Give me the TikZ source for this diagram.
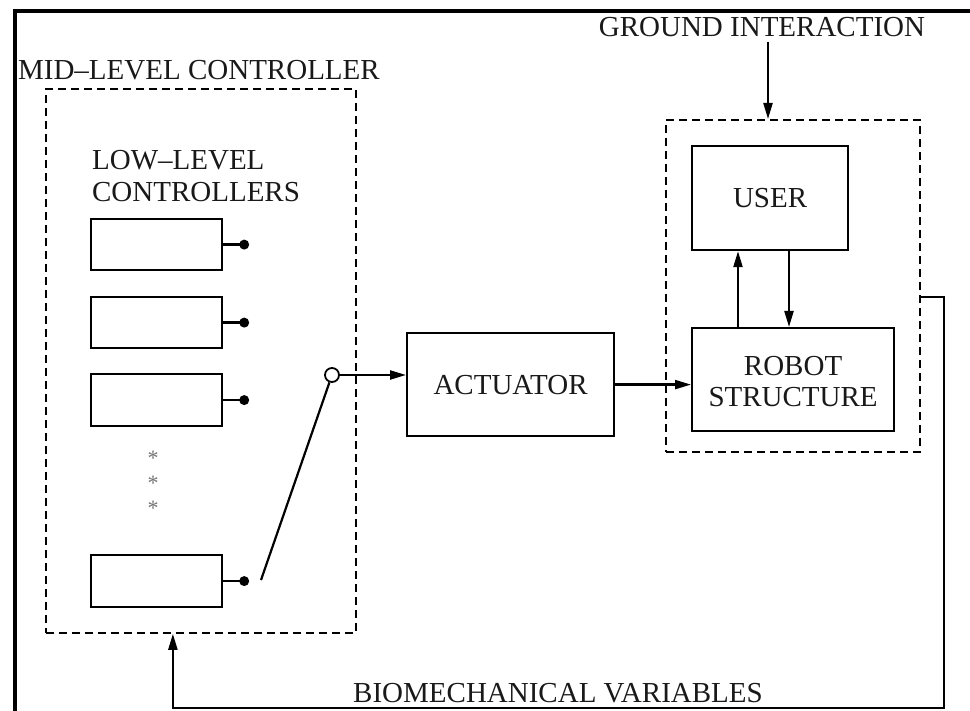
\documentclass[tikz,border=0pt]{standalone}
\usepackage{fontspec}
\setmainfont{Liberation Serif}
\usetikzlibrary{arrows.meta}
\newcommand{\lblfont}{\fontsize{29}{31}\selectfont}

\begin{document}
\begin{tikzpicture}[x=1pt,y=-1pt,line width=2.2pt,
  blk/.style={draw,rectangle,inner sep=0pt,anchor=north west},
  grp/.style={draw,rectangle,inner sep=0pt,anchor=north west,line width=1.8pt,dash pattern=on 8pt off 5pt},
  lbl/.style={inner sep=0pt,font=\lblfont,text=black!90},
  arr/.style={-{Triangle[length=16pt,width=9pt]}},
  dot/.style={circle,fill,inner sep=0pt,minimum size=10pt},
  swc/.style={circle,draw,fill=white,inner sep=0pt,minimum size=14pt,line width=1.8pt},
  ast/.style={inner sep=0pt,anchor=base,text=black!55,font=\fontsize{22}{22}\selectfont}]
\useasboundingbox (0,0) rectangle (970,711);
\draw[line width=3.5pt] (15,711) -- (15,11) -- (970,11);

\node[grp,minimum width=310,minimum height=544] (mid) at (45,88) {};
\node[lbl,anchor=base west] (midlbl) at (17,80) {MID--LEVEL CONTROLLER};
\node[lbl,anchor=base west] (lowlbl) at (91,170) {LOW--LEVEL};
\node[lbl,anchor=base west] (lowlbl2) at (91,202) {CONTROLLERS};

\node[blk,minimum width=131,minimum height=51] (c1) at (90,218) {};
\node[blk,minimum width=131,minimum height=51] (c2) at (90,296) {};
\node[blk,minimum width=131,minimum height=52] (c3) at (90,373) {};
\node[blk,minimum width=131,minimum height=52] (c4) at (90,554) {};
\foreach \i in {1,...,4}
  \draw (c\i.east) -- ++(21,0) node[dot] (d\i) {};
\foreach \y [count=\i] in {465,490,515}
  \node[ast] (s\i) at (153,\y) {*};

\coordinate (lev) at (261,580);
\node[swc] (sw) at (332,375) {};
\draw (lev) -- (sw);

\node[blk,minimum width=207,minimum height=103] (act) at (406,332) {};
\node[lbl] at (act.center) {ACTUATOR};
\draw[arr] (sw) -- (sw -| act.west);

\node[grp,minimum width=254,minimum height=332] (gnd) at (665,119) {};
\node[blk,minimum width=156,minimum height=104] (user) at (691,145) {};
\node[lbl] at (user.center) {USER};
\node[blk,minimum width=202,minimum height=103] (rob) at (691,327) {};
\node[lbl,align=center] at ([yshift=-2pt]rob.center) {ROBOT\\STRUCTURE};
\draw[arr] (act.east) -- (act.east -| rob.west);
\draw[arr] (rob.north -| 738,0) -- (user.south -| 738,0);
\draw[arr] (user.south -| 789,0) -- (rob.north -| 789,0);

\node[lbl,anchor=base] (gndlbl) at (762,37) {GROUND INTERACTION};
\coordinate (gin) at (768,42);
\draw[arr] (gin) -- (gin |- gnd.north);

\node[lbl,anchor=base] (biolbl) at (558,702) {BIOMECHANICAL VARIABLES};
\coordinate (fb) at (944,708);
\draw[arr] ([yshift=-11pt]gnd.east) -| (fb) -| ([xshift=-28pt]mid.south);
\end{tikzpicture}
\end{document}
